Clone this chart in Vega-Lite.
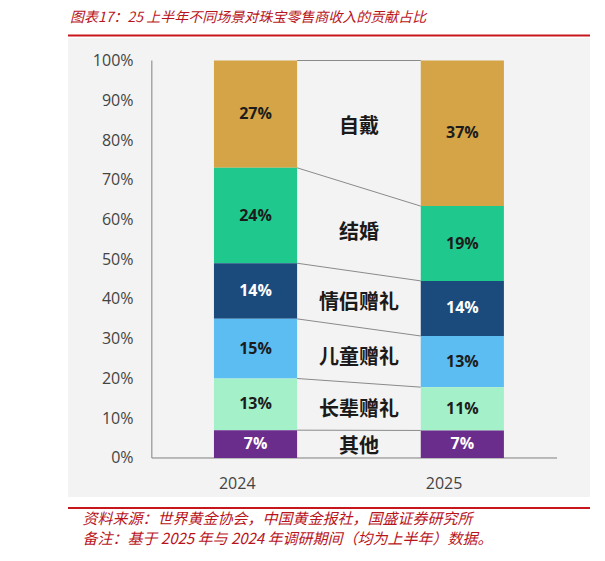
{
  "$schema": "https://vega.github.io/schema/vega-lite/v6.json",
  "autosize": "none",
  "width": 522,
  "height": 472.5,
  "padding": {"left": 68, "top": 35.5, "right": 15, "bottom": 53},
  "background": "white",
  "title": {
    "text": "图表17：25 上半年不同场景对珠宝零售商收入的贡献占比",
    "anchor": "start",
    "frame": "group",
    "offset": 12.5,
    "dy": 14,
    "baseline": "alphabetic",
    "dx": 2,
    "font": "Noto Sans CJK SC",
    "fontSize": 14,
    "fontWeight": "normal",
    "fontStyle": "italic",
    "color": "#b8141c"
  },
  "config": {
    "view": {"stroke": null},
    "font": "Open Sans"
  },
  "data": {
    "values": [
      {"year": "2024", "scene": "自戴", "pct": 27},
      {"year": "2024", "scene": "结婚", "pct": 24},
      {"year": "2024", "scene": "情侣赠礼", "pct": 14},
      {"year": "2024", "scene": "儿童赠礼", "pct": 15},
      {"year": "2024", "scene": "长辈赠礼", "pct": 13},
      {"year": "2024", "scene": "其他", "pct": 7},
      {"year": "2025", "scene": "自戴", "pct": 37},
      {"year": "2025", "scene": "结婚", "pct": 19},
      {"year": "2025", "scene": "情侣赠礼", "pct": 14},
      {"year": "2025", "scene": "儿童赠礼", "pct": 13},
      {"year": "2025", "scene": "长辈赠礼", "pct": 11},
      {"year": "2025", "scene": "其他", "pct": 7}
    ]
  },
  "transform": [
    {"calculate": "indexof(['其他', '长辈赠礼', '儿童赠礼', '情侣赠礼', '结婚', '自戴'], datum.scene)", "as": "ord"},
    {"stack": "pct", "groupby": ["year"], "sort": [{"field": "ord", "order": "ascending"}], "offset": "normalize", "as": ["y0", "y1"]},
    {"calculate": "(datum.y0 + datum.y1) / 2", "as": "mid"},
    {"calculate": "datum.pct + '%'", "as": "label"}
  ],
  "layer": [
    {
      "data": {"values": [{}]},
      "mark": {"type": "rect", "color": "#f3f3f3"},
      "encoding": {
        "y": {"datum": -0.0981, "type": "quantitative"},
        "y2": {"datum": 1.0566}
      }
    },
    {
      "data": {"values": [{}]},
      "mark": {"type": "rule", "color": "#c8161d", "strokeWidth": 2},
      "encoding": {"y": {"datum": -0.1258, "type": "quantitative"}}
    },
    {
      "data": {"values": [{}]},
      "mark": {"type": "rule", "color": "#c8161d", "strokeWidth": 2},
      "encoding": {"y": {"datum": 1.0629, "type": "quantitative"}}
    },
    {
      "data": {"values": [{}]},
      "mark": {"type": "rule", "color": "#7f7f7f", "strokeWidth": 1},
      "encoding": {
        "x": {"datum": "2024", "type": "nominal", "bandPosition": -0.747},
        "y": {"datum": 0, "type": "quantitative"},
        "y2": {"datum": 1}
      }
    },
    {
      "data": {"values": [{}]},
      "mark": {"type": "rule", "color": "#7f7f7f", "strokeWidth": 1},
      "encoding": {
        "x": {"datum": "2024", "type": "nominal", "bandPosition": -0.747},
        "x2": {"datum": "2025", "bandPosition": 1.639},
        "y": {"datum": 0, "type": "quantitative"}
      }
    },
    {
      "transform": [{"pivot": "year", "value": "y1", "groupby": ["scene"]}],
      "mark": {"type": "rule", "color": "#8a8a8a", "strokeWidth": 1},
      "encoding": {
        "x": {"datum": "2024", "type": "nominal", "bandPosition": 1},
        "x2": {"datum": "2025", "bandPosition": 0},
        "y": {"field": "2024", "type": "quantitative"},
        "y2": {"field": "2025"}
      }
    },
    {
      "mark": {"type": "bar"},
      "encoding": {
        "x": {
          "field": "year",
          "type": "nominal",
          "scale": {"type": "band", "paddingInner": 0.598, "paddingOuter": 0.561, "align": 0.629},
          "axis": {
            "orient": "bottom",
            "offset": -50,
            "zindex": 1,
            "labelAngle": 0,
            "domain": false,
            "ticks": false,
            "tickSize": 0,
            "grid": false,
            "labelPadding": 25,
            "labelFont": "Open Sans",
            "labelFontSize": 16,
            "labelColor": "#444444",
            "title": ["资料来源：世界黄金协会，中国黄金报社，国盛证券研究所", "备注：基于 2025 年与 2024 年调研期间（均为上半年）数据。"],
            "titleX": 14,
            "titleY": 53,
            "titleAlign": "left",
            "titleAnchor": "start",
            "titleBaseline": "top",
            "titleLineHeight": 20,
            "titleFont": "Noto Sans CJK SC",
            "titleFontSize": 15,
            "titleFontWeight": "normal",
            "titleFontStyle": "italic",
            "titleColor": "#b8141c"
          }
        },
        "y": {
          "field": "y0",
          "type": "quantitative",
          "scale": {"domain": [-0.1258, 1.0629], "nice": false, "zero": false},
          "axis": {
            "orient": "left",
            "offset": -84,
            "zindex": 1,
            "values": [0, 0.1, 0.2, 0.3, 0.4, 0.5, 0.6, 0.7, 0.8, 0.9, 1],
            "format": ".0%",
            "domain": false,
            "ticks": false,
            "tickSize": 0,
            "labelPadding": 19,
            "labelFont": "Open Sans",
            "labelFontSize": 16,
            "labelColor": "#444444",
            "grid": false,
            "title": null
          }
        },
        "y2": {"field": "y1"},
        "color": {
          "field": "scene",
          "type": "nominal",
          "scale": {
            "domain": ["自戴", "结婚", "情侣赠礼", "儿童赠礼", "长辈赠礼", "其他"],
            "range": ["#d5a446", "#1fc98e", "#1b4b7c", "#5cbdf2", "#a4f0c9", "#6b2d8c"]
          },
          "legend": null
        }
      }
    },
    {
      "mark": {"type": "text", "font": "Open Sans", "fontWeight": "bold", "fontSize": 16},
      "encoding": {
        "x": {"field": "year", "type": "nominal"},
        "y": {"field": "mid", "type": "quantitative"},
        "text": {"field": "label"},
        "color": {
          "condition": {"test": "datum.scene === '情侣赠礼' || datum.scene === '其他'", "value": "#ffffff"},
          "value": "#1c1c1c"
        }
      }
    },
    {
      "transform": [{"aggregate": [{"op": "mean", "field": "mid", "as": "labelY"}], "groupby": ["scene"]}],
      "mark": {"type": "text", "font": "Noto Sans CJK SC", "fontWeight": "bold", "fontSize": 20, "color": "#1a1a1a", "dy": 3},
      "encoding": {
        "x": {"datum": "2024", "type": "nominal", "bandPosition": 1.745},
        "y": {"field": "labelY", "type": "quantitative"},
        "text": {"field": "scene"}
      }
    }
  ]
}
